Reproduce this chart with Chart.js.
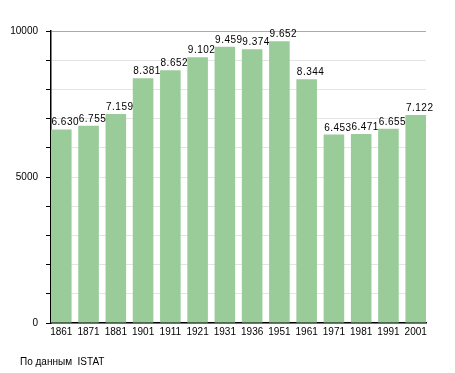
<!DOCTYPE html>
<html>
<head>
<meta charset="utf-8">
<script src="https://cdn.jsdelivr.net/npm/chart.js@4/dist/chart.umd.min.js"></script>
<style>
  body { margin: 0; background: #fff; }
  #wrap { position: relative; width: 455px; height: 373px; }
</style>
</head>
<body>
<div id="wrap"><canvas id="popChart" width="455" height="373"></canvas></div>
<script>
const years = ['1861', '1871', '1881', '1901', '1911', '1921', '1931', '1936', '1951', '1961', '1971', '1981', '1991', '2001'];
const population = [6630, 6755, 7159, 8381, 8652, 9102, 9459, 9374, 9652, 8344, 6453, 6471, 6655, 7122];
const yLabels = [0, 5000, 10000];
const sourceText = 'По данным  ISTAT';

const FONT = 'Liberation Sans, Arial, sans-serif';
const BAR_FRAC = 0.755;

// bars are placed by index on a linear axis so the outer bars sit flush with the axis ends
const points = population.map((v, i) => ({ x: i, y: v }));

// value labels above bars (left aligned to the bar) + source note at the bottom
const labelsPlugin = {
    id: 'labels',
    afterDatasetsDraw(chart) {
        const ctx = chart.ctx;
        const meta = chart.getDatasetMeta(0);
        ctx.save();
        ctx.font = '10px ' + FONT;
        ctx.fillStyle = '#000';
        ctx.textAlign = 'left';
        ctx.textBaseline = 'alphabetic';
        ctx.letterSpacing = '0.5px';
        meta.data.forEach((bar, i) => {
            const txt = population[i].toLocaleString('it-IT');
            ctx.fillText(txt, bar.x - bar.width / 2 + 0.5, bar.y - 4);
        });
        ctx.letterSpacing = '0px';
        ctx.textBaseline = 'middle';
        ctx.fillText(sourceText, 20, 362);
        ctx.restore();
    }
};

const popChart = new Chart(document.getElementById('popChart').getContext('2d'), {
    type: 'bar',
    data: {
        datasets: [{
            data: points,
            backgroundColor: '#99cc99',
            borderWidth: 0,
            barPercentage: BAR_FRAC,
            categoryPercentage: 1
        }]
    },
    options: {
        responsive: false,
        animation: false,
        layout: { padding: { top: 31, right: 29, bottom: 0, left: 0 } },
        plugins: {
            legend: { display: false },
            tooltip: { enabled: false }
        },
        scales: {
            x: {
                type: 'linear',
                offset: false,
                min: -BAR_FRAC / 2,
                max: years.length - 1 + BAR_FRAC / 2,
                afterFit(scale) { scale.height = 50; },
                grid: { display: false, drawTicks: false, offset: false },
                border: { color: '#000', width: 1.5 },
                ticks: {
                    stepSize: 1,
                    includeBounds: false,
                    autoSkip: false,
                    maxRotation: 0,
                    padding: 3,
                    color: '#000',
                    font: { family: FONT, size: 10 },
                    callback: v => years[v] || ''
                }
            },
            y: {
                min: 0,
                max: 10000,
                afterFit(scale) { scale.width = 51; },
                grid: {
                    color: ctx => ctx.tick && ctx.tick.value === 10000 ? '#aaaaaa' : '#e4e4e4',
                    tickColor: '#000',
                    tickLength: 5
                },
                border: { color: '#000', width: 1.5 },
                ticks: {
                    stepSize: 1000,
                    color: '#000',
                    padding: 8,
                    font: { family: FONT, size: 10 },
                    callback: v => yLabels.includes(v) ? String(v) : ''
                }
            }
        }
    },
    plugins: [labelsPlugin]
});
</script>
</body>
</html>
